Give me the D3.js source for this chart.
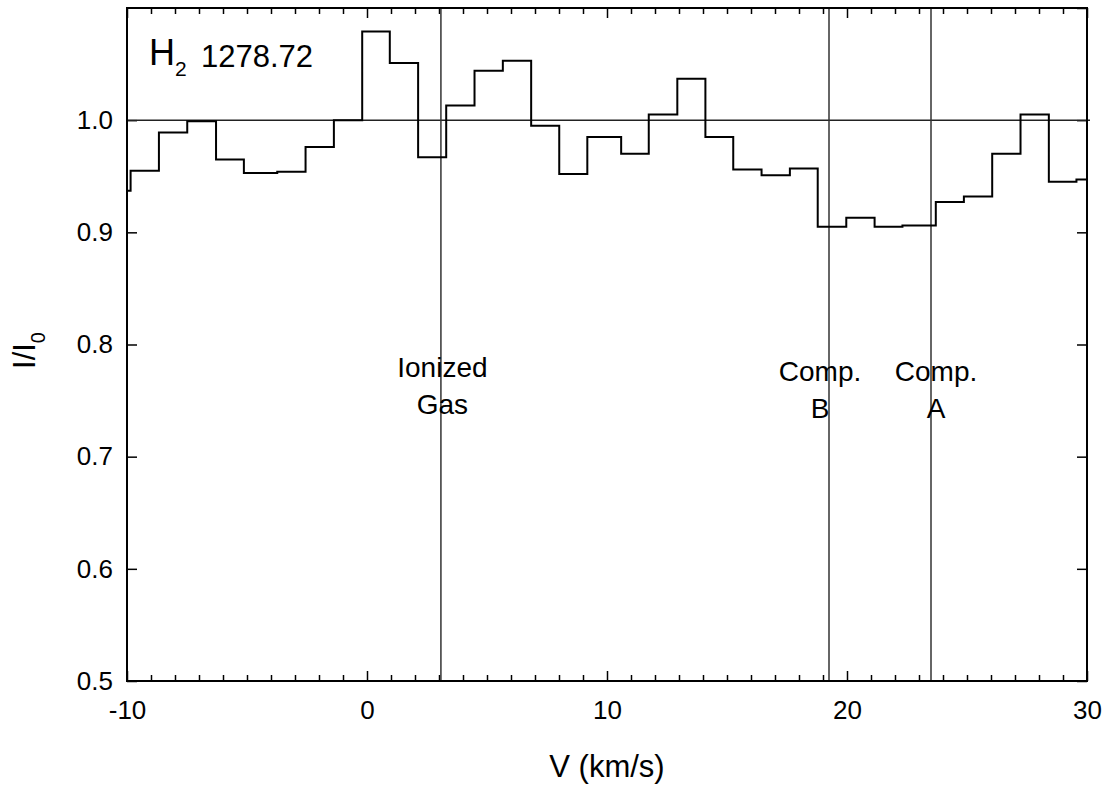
<!DOCTYPE html>
<html>
<head>
<meta charset="utf-8">
<script src="https://cdn.jsdelivr.net/npm/d3@7"></script>
<style>
  body { margin: 0; background: #fff; }
  svg { font-family: "Liberation Sans", Arial, sans-serif; }
</style>
</head>
<body>
<svg id="chart" width="1107" height="789"></svg>
<script>
// left edge of each velocity bin (km/s), plus the right edge of the last one
const binStarts = [-11.0, -9.85, -8.67, -7.49, -6.29, -5.13, -3.74, -2.56, -1.38, -0.20,
    0.95, 2.13, 3.30, 4.48, 5.66, 6.84, 8.01, 9.18, 10.59, 11.74,
    12.93, 14.10, 15.26, 16.44, 17.62, 18.78, 19.97, 21.15, 22.31, 23.70,
    24.87, 26.05, 27.23, 28.41, 29.56];
const lastEdge = 30.74;
// normalised flux I/I0 in each bin
const flux = [0.937, 0.955, 0.989, 0.999, 0.965, 0.953, 0.954, 0.976, 1.000, 1.079,
    1.051, 0.967, 1.013, 1.044, 1.053, 0.995, 0.952, 0.985, 0.970, 1.005,
    1.037, 0.985, 0.956, 0.951, 0.957, 0.905, 0.913, 0.905, 0.906, 0.927,
    0.932, 0.970, 1.005, 0.945, 0.947];

// component markers
const markerV = [3.08, 19.25, 23.5];
const markerLabels = [["Ionized", "Gas"], ["Comp.", "B"], ["Comp.", "A"]];

const xTicks = [-10, 0, 10, 20, 30];
const yTicks = [0.5, 0.6, 0.7, 0.8, 0.9, 1.0];
const continuum = 1.0;

const svg = d3.select("#chart");
const width = +svg.attr("width");
const height = +svg.attr("height");
const margin = { top: 8, right: 20, bottom: 108, left: 127 };

const x = d3.scaleLinear().domain([-10, 30]).range([margin.left, width - margin.right]);
const y = d3.scaleLinear().domain([0.5, 1.1]).range([height - margin.bottom, margin.top]);

const minorX = d3.range(-10, 31, 1).filter(v => v % 10 !== 0);

svg.append("clipPath").attr("id", "plotClip")
    .append("rect")
    .attr("x", x(-10)).attr("y", y(1.1))
    .attr("width", x(30) - x(-10)).attr("height", y(0.5) - y(1.1));

function styleAxis(g) {
    g.select(".domain").remove();
    g.selectAll("line").attr("stroke", "#000").attr("stroke-width", 1.5);
    g.selectAll("text").attr("fill", "#000").style("font-size", "26px")
        .style("font-family", "'Liberation Sans', Arial, sans-serif");
}

// bottom axis with inside ticks
svg.append("g").attr("transform", `translate(0,${y(0.5)})`)
    .call(d3.axisBottom(x).tickValues(xTicks).tickSize(-10).tickPadding(20).tickFormat(d => String(d)))
    .call(styleAxis);
svg.append("g").attr("transform", `translate(0,${y(0.5)})`)
    .call(d3.axisBottom(x).tickValues(minorX).tickSize(-6).tickFormat(""))
    .call(styleAxis);
// top axis
svg.append("g").attr("transform", `translate(0,${y(1.1)})`)
    .call(d3.axisTop(x).tickValues(xTicks).tickSize(-10).tickFormat(""))
    .call(styleAxis);
svg.append("g").attr("transform", `translate(0,${y(1.1)})`)
    .call(d3.axisTop(x).tickValues(minorX).tickSize(-6).tickFormat(""))
    .call(styleAxis);
// left / right axes
svg.append("g").attr("transform", `translate(${x(-10)},0)`)
    .call(d3.axisLeft(y).tickValues(yTicks).tickSize(-10).tickPadding(14).tickFormat(d3.format(".1f")))
    .call(styleAxis);
svg.append("g").attr("transform", `translate(${x(30)},0)`)
    .call(d3.axisRight(y).tickValues(yTicks.concat([1.1])).tickSize(-10).tickFormat(""))
    .call(styleAxis);

// continuum level
svg.append("line")
    .attr("x1", x(-10)).attr("x2", x(30) + 3)
    .attr("y1", y(continuum)).attr("y2", y(continuum))
    .attr("stroke", "#222").attr("stroke-width", 1.5);

// component marker lines
svg.selectAll(".marker").data(markerV).enter()
    .append("line").attr("class", "marker")
    .attr("x1", d => x(d)).attr("x2", d => x(d))
    .attr("y1", y(0.5)).attr("y2", y(1.1))
    .attr("stroke", "#333").attr("stroke-width", 1.5);

// the spectrum as a histogram-style step line
const pts = binStarts.map((v, i) => ({ v: v, f: flux[i] }));
pts.push({ v: lastEdge, f: flux[flux.length - 1] });

const stepLine = d3.line()
    .x(d => x(d.v))
    .y(d => y(d.f))
    .curve(d3.curveStepAfter);

svg.append("path")
    .datum(pts)
    .attr("clip-path", "url(#plotClip)")
    .attr("fill", "none")
    .attr("stroke", "#000")
    .attr("stroke-width", 2)
    .attr("d", stepLine);

// frame
svg.append("rect")
    .attr("x", x(-10)).attr("y", y(1.1))
    .attr("width", x(30) - x(-10)).attr("height", y(0.5) - y(1.1))
    .attr("fill", "none").attr("stroke", "#000").attr("stroke-width", 2);

// marker labels
const labelShift = [1.5, -9, 5];
markerLabels.forEach((lines, i) => {
    const t = svg.append("text")
        .attr("text-anchor", "middle")
        .style("font-size", "28px")
        .attr("fill", "#000");
    lines.forEach((s, j) => {
        t.append("tspan")
            .attr("x", x(markerV[i]) + labelShift[i])
            .attr("y", (i === 0 ? 377 : 381) + j * 37)
            .text(s);
    });
});

// line identification
const title = svg.append("text").attr("fill", "#000");
title.append("tspan").attr("x", 149).attr("y", 65).style("font-size", "36px").text("H");
title.append("tspan").attr("x", 175).attr("y", 76).style("font-size", "21px").text("2");
title.append("tspan").attr("x", 201).attr("y", 67).style("font-size", "31px").text("1278.72");

// axis titles
svg.append("text")
    .attr("x", (x(-10) + x(30)) / 2).attr("y", 777)
    .attr("text-anchor", "middle")
    .style("font-size", "31px")
    .text("V (km/s)");

const yTitle = svg.append("text")
    .attr("transform", `translate(35,${(y(0.5) + y(1.1)) / 2 + 6}) rotate(-90)`)
    .attr("text-anchor", "middle")
    .style("font-size", "31px");
yTitle.append("tspan").text("I/I");
yTitle.append("tspan").attr("dy", 10).style("font-size", "20px").text("0");
</script>
</body>
</html>
